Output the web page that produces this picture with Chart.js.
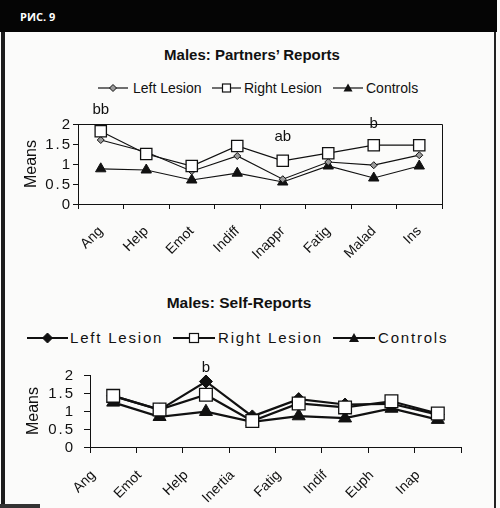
<!DOCTYPE html>
<html>
<head>
<meta charset="utf-8">
<script src="https://cdn.jsdelivr.net/npm/chart.js@4"></script>
<style>
  body { margin: 0; width: 500px; height: 508px; background: #fbfbfa; position: relative; overflow: hidden;
         font-family: "Liberation Sans", Arial, sans-serif; color: #111; }
  .abs { position: absolute; }
  #frame { left: 1px; top: 0; width: 489px; height: 508px; border-left: 4px solid #1c1c1c; border-right: 2px solid #222; }
  #head { left: 0; top: 0; width: 497px; height: 32px; background: #050505; }
  #head span { position: absolute; left: 20px; top: 9px; color: #fff; font: bold 11px "Open Sans", sans-serif; }
  .title { font-weight: bold; white-space: nowrap; transform: translate(-50%, -50%); }
  .leg { font-size: 14px; line-height: 16px; white-space: nowrap; }
  .leg2 { font-size: 15px; line-height: 18px; letter-spacing: 1.8px; white-space: nowrap; }
  canvas { position: absolute; left: 0; }
</style>
</head>
<body>
<div id="frame" class="abs"></div>
<div id="bottomBar" class="abs" style="left:0;top:504px;width:40px;height:4px;background:#333"></div>
<div id="head" class="abs"><span>РИС. 9</span></div>

<div class="abs title" style="left:252px;top:54px;font-size:15px">Males: Partners’ Reports</div>
<div class="abs title" style="left:239px;top:303px;font-size:15.5px">Males: Self-Reports</div>

<div id="legTop"></div>
<div id="legBottom"></div>

<canvas id="chartTop" width="500" height="220" style="top:40px"></canvas>
<canvas id="chartBottom" width="500" height="248" style="top:260px"></canvas>

<script>
// top chart: Males, partners' reports
const catsTop = ['Ang', 'Help', 'Emot', 'Indiff', 'Inappr', 'Fatig', 'Malad', 'Ins'];
const leftTop = [1.6, 1.3, 0.82, 1.2, 0.62, 1.05, 0.97, 1.22];
const rightTop = [1.82, 1.25, 0.95, 1.45, 1.08, 1.27, 1.47, 1.47];
const controlsTop = [0.88, 0.85, 0.6, 0.77, 0.55, 0.95, 0.65, 0.95];
const notesTopText = ['bb', 'ab', 'b'];
const notesTopCat = ['Ang', 'Inappr', 'Malad'];
const notesTopValue = [2.35, 1.68, 2.0];

// bottom chart: Males, self-reports
const catsBottom = ['Ang', 'Emot', 'Help', 'Inertia', 'Fatig', 'Indif', 'Euph', 'Inap'];
const leftBottom = [1.42, 1.03, 1.82, 0.85, 1.33, 1.18, 1.2, 0.9];
const rightBottom = [1.42, 1.04, 1.45, 0.72, 1.21, 1.1, 1.27, 0.93];
const controlsBottom = [1.24, 0.84, 0.98, 0.7, 0.86, 0.8, 1.07, 0.76];
const notesBottomText = ['b'];
const notesBottomCat = ['Help'];
const notesBottomValue = [2.2];

const yTicks = ['0', '0.5', '1', '1.5', '2'];
const seriesNames = ['Left Lesion', 'Right Lesion', 'Controls'];

Chart.defaults.font.family = '"Liberation Sans", Arial, sans-serif';
Chart.defaults.color = '#111';

const ink = '#111';

const notesPlugin = {
  id: 'notes',
  afterDatasetsDraw(chart, args, opts) {
    const ctx = chart.ctx, x = chart.scales.x, y = chart.scales.y;
    ctx.save();
    ctx.font = '15px "Liberation Sans", Arial, sans-serif';
    ctx.fillStyle = ink;
    ctx.textAlign = 'center';
    ctx.textBaseline = 'middle';
    opts.texts.forEach((t, i) => {
      const idx = chart.data.labels.indexOf(opts.cats[i]);
      ctx.fillText(t, x.getPixelForValue(idx), y.getPixelForValue(opts.values[i]));
    });
    ctx.restore();
  }
};

// y tick labels, spaced out like the scan
const yLabelPlugin = {
  id: 'ylabels',
  afterDraw(chart, args, opts) {
    const ctx = chart.ctx, y = chart.scales.y;
    ctx.save();
    ctx.font = '15px "Liberation Sans", Arial, sans-serif';
    ctx.letterSpacing = opts.spacing + 'px';
    ctx.fillStyle = ink;
    ctx.textAlign = 'right';
    ctx.textBaseline = 'middle';
    yTicks.forEach(t => ctx.fillText(t, opts.right + opts.spacing, y.getPixelForValue(Number(t)) + 0.5));
    ctx.restore();
  }
};

// top and right edge of the plot area (top chart only)
const boxPlugin = {
  id: 'box',
  beforeDatasetsDraw(chart, args, opts) {
    if (!opts.on) return;
    const {ctx, chartArea: a} = chart;
    ctx.save();
    ctx.strokeStyle = ink;
    ctx.lineWidth = 1;
    ctx.beginPath();
    ctx.moveTo(a.left, a.top + 0.5);
    ctx.lineTo(a.right + 0.5, a.top + 0.5);
    ctx.lineTo(a.right + 0.5, a.bottom);
    ctx.stroke();
    ctx.restore();
  }
};

function makeChart(id, cats, sets, cfg) {
  return new Chart(document.getElementById(id), {
    type: 'line',
    data: {
      labels: cats,
      datasets: [
        { label: seriesNames[0], data: sets[0], borderColor: ink, borderWidth: cfg.lw,
          pointStyle: 'rectRot', pointRadius: cfg.diamond, pointBackgroundColor: cfg.diamondFill,
          pointBorderColor: ink, pointBorderWidth: 1, order: 1 },
        { label: seriesNames[1], data: sets[1], borderColor: ink, borderWidth: cfg.lw,
          pointStyle: 'rect', pointRadius: cfg.square, pointBackgroundColor: '#fff',
          pointBorderColor: ink, pointBorderWidth: 1.3, order: 0 },
        { label: seriesNames[2], data: sets[2], borderColor: ink, borderWidth: cfg.lw,
          pointStyle: 'triangle', pointRadius: cfg.tri, pointBackgroundColor: ink,
          pointBorderColor: ink, pointBorderWidth: 1, order: 2 }
      ]
    },
    options: {
      responsive: false,
      animation: false,
      layout: { padding: cfg.pad },
      plugins: {
        legend: { display: false },
        tooltip: { enabled: false },
        notes: cfg.notes,
        box: { on: cfg.box },
        ylabels: { right: cfg.yLabelRight, spacing: 2 }
      },
      elements: { line: { tension: 0 } },
      scales: {
        x: {
          offset: true,
          afterFit(s) { s.height = cfg.xH; },
          grid: { offset: true, drawOnChartArea: false, drawTicks: true, tickLength: cfg.tickLen, color: ink },
          border: { display: true, color: ink, width: 1 },
          ticks: { autoSkip: false, minRotation: 45, maxRotation: 45, padding: cfg.xPad,
                   labelOffset: cfg.labelOffset, font: { size: 14 }, color: ink }
        },
        y: {
          min: 0, max: 2,
          afterFit(s) { s.width = cfg.yW; },
          afterBuildTicks(s) { s.ticks = yTicks.map(v => ({ value: Number(v) })); },
          grid: { drawOnChartArea: false, drawTicks: true, tickLength: cfg.tickLen, color: ink },
          border: { display: true, color: ink, width: 1 },
          ticks: { display: false, autoSkip: false },
          title: { display: true, text: 'Means', font: { size: 16 }, color: ink,
                   padding: { top: cfg.titlePad, bottom: 0 } }
        }
      }
    },
    plugins: [notesPlugin, boxPlugin, yLabelPlugin]
  });
}

makeChart('chartTop', catsTop, [leftTop, rightTop, controlsTop], {
  lw: 1.2, diamond: 3.5, diamondFill: '#9a9a9a', square: 8, tri: 6,
  pad: { top: 84, right: 58, left: 0, bottom: 0 }, xH: 56, yW: 78,
  tickLen: 5, xPad: 14, yLabelRight: 70, titlePad: 22, labelOffset: 0, box: true,
  notes: { texts: notesTopText, cats: notesTopCat, values: notesTopValue }
});

makeChart('chartBottom', catsBottom, [leftBottom, rightBottom, controlsBottom], {
  lw: 2.2, diamond: 6.5, diamondFill: ink, square: 9, tri: 7.5,
  pad: { top: 115, right: 39, left: 0, bottom: 0 }, xH: 61, yW: 90,
  tickLen: 6, xPad: 14, yLabelRight: 73, titlePad: 24, labelOffset: -20, box: false,
  notes: { texts: notesBottomText, cats: notesBottomCat, values: notesBottomValue }
});

// legends: line + marker icon, then the series name
function icon(kind, w, lw, size, fill) {
  const c = w / 2, m = 9, h = size / 2;
  let mark = '';
  if (kind === 'diamond') mark = `<polygon points="${c},${m - h} ${c + h},${m} ${c},${m + h} ${c - h},${m}" fill="${fill}" stroke="${ink}" stroke-width="1"/>`;
  if (kind === 'square') mark = `<rect x="${c - h}" y="${m - h}" width="${size}" height="${size}" fill="#fff" stroke="${ink}" stroke-width="1.2"/>`;
  if (kind === 'triangle') mark = `<polygon points="${c},${m - h} ${c + h},${m + h * 0.8} ${c - h},${m + h * 0.8}" fill="${ink}"/>`;
  return `<svg width="${w}" height="18" style="display:block"><line x1="0" y1="${m}" x2="${w}" y2="${m}" stroke="${ink}" stroke-width="${lw}"/>${mark}</svg>`;
}

function legend(id, items, cy, cls, lw) {
  const el = document.getElementById(id);
  items.forEach((it, i) => {
    const ic = document.createElement('div');
    ic.className = 'abs';
    ic.style.left = it.ix + 'px';
    ic.style.top = (cy - 9) + 'px';
    ic.innerHTML = icon(it.kind, it.iw, lw, it.size, it.fill);
    el.appendChild(ic);
    const tx = document.createElement('div');
    tx.className = 'abs ' + cls;
    tx.style.left = it.tx + 'px';
    tx.style.top = (cy - (cls === 'leg' ? 8 : 9)) + 'px';
    tx.textContent = seriesNames[i];
    el.appendChild(tx);
  });
}

legend('legTop', [
  { kind: 'diamond', ix: 98, iw: 30, size: 7, fill: '#9a9a9a', tx: 133 },
  { kind: 'square', ix: 212, iw: 29, size: 8, tx: 244 },
  { kind: 'triangle', ix: 333, iw: 30, size: 9, tx: 366 }
], 88, 'leg', 1.2);

legend('legBottom', [
  { kind: 'diamond', ix: 27, iw: 41, size: 10, fill: ink, tx: 70 },
  { kind: 'square', ix: 173, iw: 42, size: 9, tx: 218 },
  { kind: 'triangle', ix: 333, iw: 42, size: 10, tx: 378 }
], 338, 'leg2', 2);
</script>
</body>
</html>
